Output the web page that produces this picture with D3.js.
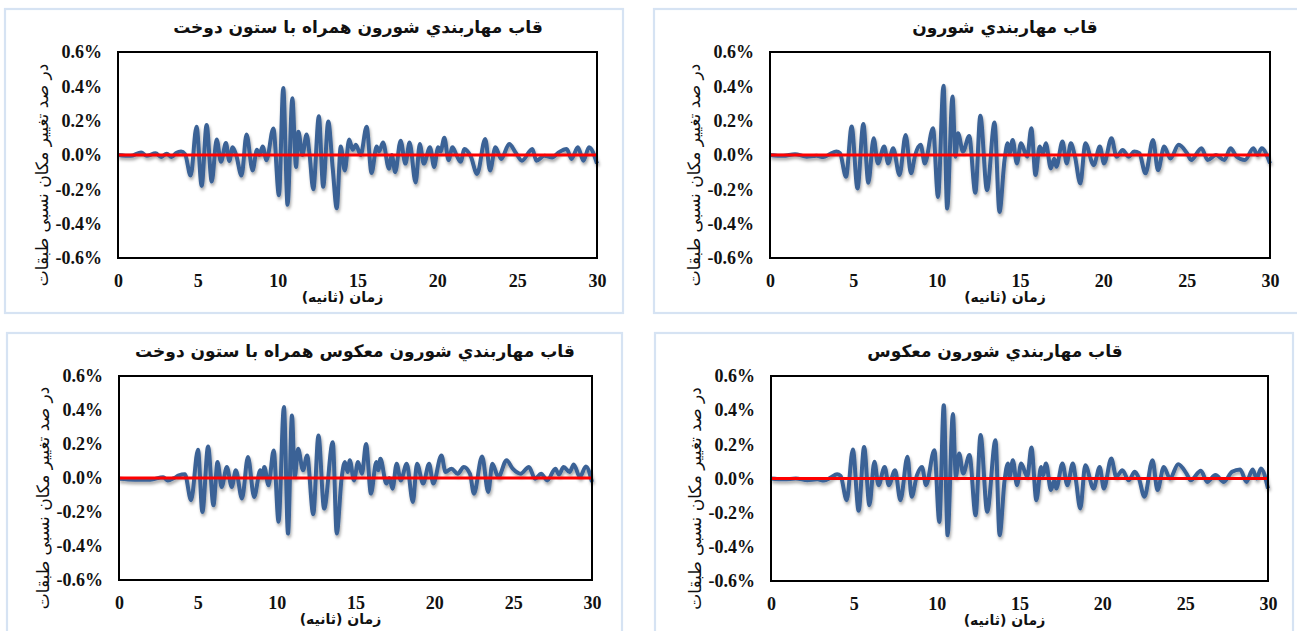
<!DOCTYPE html>
<html>
<head>
<meta charset="utf-8">
<script src="https://cdn.jsdelivr.net/npm/d3@7"></script>
<style>
  html, body { margin: 0; padding: 0; background: #fff; }
  svg { display: block; }
</style>
</head>
<body>
<svg id="chart" width="1297" height="631"></svg>
<script>
// Story drift time histories, [time (s), drift (%)]
const timeTicks = [0, 5, 10, 15, 20, 25, 30];
const driftTicks = [-0.6, -0.4, -0.2, 0, 0.2, 0.4, 0.6];

const titles = [
  "قاب مهاربندي شورون همراه با ستون دوخت",
  "قاب مهاربندي شورون",
  "قاب مهاربندي شورون معکوس همراه با ستون دوخت",
  "قاب مهاربندي شورون معکوس"
];
const xTitle = "زمان (ثانیه)";
const yTitle = "در صد تغییر مکان نسبی طبقات";

const chevronZipper = [[0,0],[0.8,-0.005],[1.45,0.015],[1.8,-0.005],[2.35,0.01],[2.7,-0.012],[3.05,0.008],[3.35,-0.012],[3.65,0.012],[3.95,0.02],[4.2,0.005],[4.55,-0.12],[4.92,0.165],[5.24,-0.18],[5.55,0.175],[5.87,-0.155],[6.18,0.09],[6.45,-0.04],[6.76,0.07],[6.97,-0.035],[7.18,0.045],[7.4,0.0],[7.74,-0.12],[8.05,0.12],[8.43,-0.09],[8.7,0.03],[8.85,0.0],[9.06,0.05],[9.3,-0.03],[9.73,0.155],[10.08,-0.235],[10.35,0.39],[10.62,-0.29],[10.92,0.33],[11.15,-0.07],[11.3,0.135],[11.55,0.0],[11.81,0.12],[12.0,0.0],[12.23,-0.2],[12.58,0.225],[12.85,-0.185],[13.17,0.195],[13.45,-0.08],[13.7,-0.31],[13.95,0.05],[14.2,-0.09],[14.48,0.09],[14.7,0.03],[14.9,0.06],[15.2,0.0],[15.57,0.165],[15.88,-0.105],[16.2,0.05],[16.35,0.02],[16.6,0.073],[16.97,-0.08],[17.15,0.0],[17.36,-0.1],[17.7,0.083],[18.0,-0.05],[18.26,0.073],[18.64,-0.16],[18.9,0.064],[19.15,-0.05],[19.54,0.045],[19.8,-0.07],[20.05,0.045],[20.2,0.02],[20.44,0.1],[20.7,-0.03],[20.95,0.045],[21.2,0.0],[21.46,-0.04],[21.7,0.035],[22.1,-0.01],[22.49,-0.11],[23.0,0.093],[23.3,-0.09],[23.64,0.045],[24.0,-0.023],[24.5,0.064],[24.9,0.015],[25.3,-0.033],[25.95,0.035],[26.2,-0.033],[26.7,-0.004],[27.2,-0.014],[27.6,0.015],[28.1,0.035],[28.4,-0.023],[28.8,0.045],[29.15,-0.033],[29.5,0.045],[30,-0.05]];

const chevron = [[0,0],[0.8,-0.005],[1.5,0.005],[2.2,-0.01],[2.8,-0.005],[3.2,-0.012],[3.6,0.005],[3.98,0.02],[4.2,0.01],[4.56,-0.127],[4.9,0.166],[5.25,-0.195],[5.6,0.181],[5.9,-0.162],[6.22,0.098],[6.47,-0.049],[6.85,0.049],[7.09,-0.049],[7.39,0.039],[7.77,-0.117],[8.14,0.117],[8.46,-0.107],[8.71,0.0],[9.04,0.059],[9.29,-0.049],[9.78,0.156],[10.08,-0.244],[10.41,0.404],[10.63,-0.312],[10.95,0.341],[11.13,-0.01],[11.28,0.127],[11.58,0.02],[11.95,0.111],[12.32,-0.22],[12.62,0.228],[13.02,-0.205],[13.47,0.189],[13.77,-0.332],[14.07,-0.03],[14.26,0.068],[14.38,0.01],[14.56,0.088],[14.81,-0.049],[15.06,0.068],[15.43,-0.01],[15.68,0.156],[15.93,-0.117],[16.18,0.049],[16.38,0.01],[16.55,0.068],[16.85,-0.078],[17.05,-0.02],[17.18,-0.068],[17.55,0.078],[17.8,-0.049],[18.05,0.068],[18.3,-0.01],[18.62,-0.166],[18.92,0.068],[19.42,-0.059],[19.79,0.049],[20.04,-0.049],[20.49,0.098],[20.79,-0.01],[21.16,0.029],[21.53,-0.01],[21.85,0.02],[22.16,0.01],[22.53,-0.107],[22.98,0.088],[23.28,-0.088],[23.65,0.049],[24.02,-0.02],[24.52,0.059],[25.02,0.01],[25.27,-0.029],[25.89,0.039],[26.26,-0.029],[26.76,0.0],[27.26,-0.029],[27.63,0.039],[28.0,-0.01],[28.5,-0.029],[29.0,0.039],[29.25,0.0],[29.5,0.039],[30,-0.049]];

const invChevronZipper = [[0,-0.005],[1,-0.01],[2,-0.01],[2.8,0.005],[3.1,-0.015],[3.5,0.0],[3.8,0.015],[4.18,0.022],[4.57,-0.131],[5.01,0.166],[5.29,-0.2],[5.65,0.186],[5.99,-0.16],[6.25,0.094],[6.51,-0.053],[6.84,0.065],[7.15,-0.053],[7.41,0.045],[7.8,-0.121],[8.18,0.123],[8.57,-0.112],[8.96,0.045],[9.1,0.005],[9.22,0.065],[9.48,-0.043],[9.81,0.162],[10.12,-0.258],[10.46,0.417],[10.72,-0.327],[10.97,0.368],[11.15,0.006],[11.36,0.172],[11.67,0.045],[11.93,0.133],[12.32,-0.213],[12.65,0.25],[13.01,-0.18],[13.56,0.211],[13.81,-0.327],[14.12,0.0],[14.33,0.094],[14.5,0.035],[14.64,0.104],[14.9,-0.014],[15.16,0.094],[15.41,0.025],[15.67,0.2],[15.98,-0.092],[16.32,0.094],[16.45,0.045],[16.58,0.113],[16.96,-0.033],[17.15,0.0],[17.35,-0.063],[17.61,0.084],[17.87,-0.014],[18.25,0.084],[18.64,-0.141],[18.9,0.084],[19.29,-0.033],[19.67,0.084],[19.93,-0.033],[20.45,0.133],[20.71,0.035],[21.09,0.055],[21.48,0.025],[21.87,0.065],[22.26,0.025],[22.51,-0.092],[23.03,0.127],[23.42,-0.082],[23.68,0.084],[24.06,0.006],[24.58,0.104],[24.97,0.055],[25.48,0.025],[26.0,0.065],[26.39,-0.004],[26.77,0.025],[27.16,-0.014],[27.68,0.055],[27.9,0.02],[28.2,0.065],[28.58,0.035],[28.84,0.08],[29.23,0.006],[29.61,0.068],[30,-0.023]];

const invChevron = [[0,0],[0.8,-0.005],[1.5,0.0],[2.2,-0.01],[2.8,-0.005],[3.2,-0.012],[3.6,0.005],[3.99,0.025],[4.2,0.015],[4.57,-0.127],[4.94,0.17],[5.29,-0.189],[5.62,0.185],[5.94,-0.156],[6.24,0.098],[6.49,-0.039],[6.86,0.068],[7.11,-0.039],[7.49,0.049],[7.81,-0.127],[8.24,0.127],[8.49,-0.107],[8.81,0.02],[9.11,0.068],[9.36,-0.039],[9.86,0.166],[10.16,-0.254],[10.43,0.429],[10.66,-0.332],[10.98,0.377],[11.16,0.01],[11.36,0.146],[11.6,0.029],[11.98,0.137],[12.35,-0.215],[12.65,0.254],[13.05,-0.195],[13.55,0.224],[13.8,-0.332],[14.1,-0.01],[14.3,0.088],[14.4,0.01],[14.6,0.107],[14.85,-0.039],[15.1,0.088],[15.47,0.01],[15.72,0.181],[16.02,-0.127],[16.3,0.068],[16.42,0.02],[16.6,0.088],[16.9,-0.068],[17.1,-0.01],[17.22,-0.059],[17.59,0.088],[17.89,-0.039],[18.22,0.088],[18.39,0.0],[18.67,-0.176],[18.97,0.078],[19.47,-0.059],[19.84,0.068],[20.09,-0.059],[20.54,0.117],[20.84,0.01],[21.21,0.049],[21.59,-0.01],[21.96,0.039],[22.21,0.0],[22.54,-0.107],[23.03,0.107],[23.33,-0.068],[23.71,0.068],[24.08,0.0],[24.58,0.084],[25.08,0.029],[25.33,-0.01],[25.95,0.045],[26.33,-0.02],[26.83,0.02],[27.33,-0.02],[27.83,0.039],[28.32,0.053],[28.7,-0.02],[29.07,0.053],[29.32,0.0],[29.57,0.059],[30,-0.059]];

const zeroLine = [[0, 0], [30, 0]];

// Panel geometry: outer card and inner plot box
const panels = [
  { title: titles[0], series: chevronZipper,    card: [5, 9, 618, 304],   plot: [118, 52, 597, 258], titleX: 358 },
  { title: titles[1], series: chevron,          card: [654, 9, 660, 304], plot: [770, 52, 1270, 258], titleX: 1005 },
  { title: titles[2], series: invChevronZipper, card: [7, 333, 615, 310], plot: [119, 376, 592, 580], titleX: 355 },
  { title: titles[3], series: invChevron,       card: [655, 333, 638, 310], plot: [771, 376, 1268, 581], titleX: 995 }
];

const svg = d3.select("#chart");
const defs = svg.append("defs");
const shadow = defs.append("filter").attr("id", "lineShadow")
  .attr("x", "-5%").attr("y", "-20%").attr("width", "110%").attr("height", "140%");
shadow.append("feDropShadow")
  .attr("dx", 1).attr("dy", 2.5).attr("stdDeviation", 1.6)
  .attr("flood-color", "#000").attr("flood-opacity", 0.35);

const persian = "'DejaVu Sans', sans-serif";
const numeric = "'Liberation Serif', 'Times New Roman', serif";

panels.forEach(p => {
  const [cx, cy, cw, ch] = p.card;
  const [l, t, r, b] = p.plot;
  const g = svg.append("g");

  g.append("rect")
    .attr("x", cx).attr("y", cy).attr("width", cw).attr("height", ch)
    .attr("fill", "#fff").attr("stroke", "#d6e3f3").attr("stroke-width", 2.2);

  const x = d3.scaleLinear().domain([0, 30]).range([l, r]);
  const y = d3.scaleLinear().domain([-0.6, 0.6]).range([b, t]);

  // title
  g.append("text")
    .attr("x", p.titleX).attr("y", t - 19)
    .attr("text-anchor", "middle")
    .style("direction", "rtl")
    .attr("font-family", persian).attr("font-weight", "bold").attr("font-size", 17)
    .attr("fill", "#111")
    .text(p.title);

  // y axis
  const yAxis = g.append("g").attr("transform", `translate(${l},0)`)
    .call(d3.axisLeft(y).tickValues(driftTicks).tickSize(0).tickPadding(16)
      .tickFormat(d => d.toFixed(1) + "%"));
  yAxis.select(".domain").remove();
  yAxis.selectAll("text")
    .attr("font-family", numeric).attr("font-weight", "bold").attr("font-size", 18).attr("fill", "#111");

  // x axis
  const xAxis = g.append("g").attr("transform", `translate(0,${b})`)
    .call(d3.axisBottom(x).tickValues(timeTicks).tickSize(0).tickPadding(16)
      .tickFormat(d3.format("d")));
  xAxis.select(".domain").remove();
  xAxis.selectAll("text")
    .attr("font-family", numeric).attr("font-weight", "bold").attr("font-size", 18).attr("fill", "#111");

  // axis titles
  g.append("text")
    .attr("x", (l + r) / 2 - 15).attr("y", b + 44)
    .attr("text-anchor", "middle")
    .style("direction", "rtl")
    .attr("font-family", persian).attr("font-weight", "bold").attr("font-size", 14)
    .attr("fill", "#111")
    .text(xTitle);

  const yc = (t + b) / 2 + 20;
  g.append("text")
    .attr("transform", `translate(${l - 76},${yc}) rotate(-90)`)
    .attr("text-anchor", "middle")
    .attr("dy", "0.35em")
    .style("direction", "rtl")
    .attr("font-family", persian).attr("font-size", 17)
    .attr("fill", "#111")
    .text(yTitle);

  // drift history
  const line = d3.line().x(d => x(d[0])).y(d => y(d[1])).curve(d3.curveMonotoneX);
  g.append("path")
    .datum(p.series)
    .attr("d", line)
    .attr("fill", "none")
    .attr("stroke", "#3b6296")
    .attr("stroke-width", 4)
    .attr("stroke-linejoin", "round")
    .attr("filter", "url(#lineShadow)");

  // zero reference
  g.append("path")
    .datum(zeroLine)
    .attr("d", d3.line().x(d => x(d[0])).y(d => y(d[1])))
    .attr("fill", "none")
    .attr("stroke", "#ff0000")
    .attr("stroke-width", 2.8);

  // plot frame
  g.append("rect")
    .attr("x", l).attr("y", t).attr("width", r - l).attr("height", b - t)
    .attr("fill", "none").attr("stroke", "#000").attr("stroke-width", 2);
});
</script>
</body>
</html>
